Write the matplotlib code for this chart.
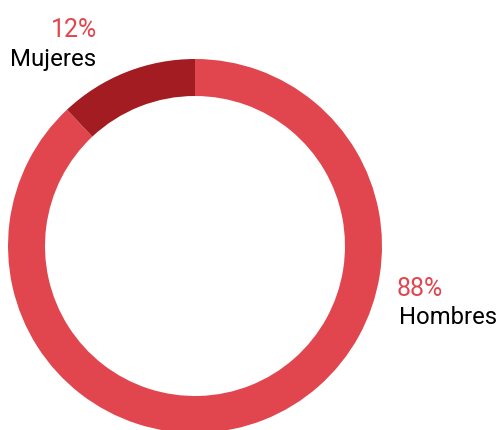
import matplotlib
matplotlib.use("Agg")
import matplotlib.pyplot as plt

labels = ["Hombres", "Mujeres"]
values = [88, 12]
pct_labels = ["88%", "12%"]
colors = ["#E1464E", "#A31C21"]

W, H = 497, 430
fig = plt.figure(figsize=(W / 100, H / 100), dpi=100)
ax = fig.add_axes([0, 0, 1, 1])

cx, cy = 195, H - 246
R, w = 187, 37
ax.pie(values, colors=colors, startangle=90, counterclock=False,
       center=(cx, cy), radius=R, wedgeprops=dict(width=w, linewidth=0),
       frame=True)
ax.set_xlim(0, W)
ax.set_ylim(0, H)
ax.set_aspect("equal")
ax.axis("off")

font = "Roboto"
# Mujeres label
ax.text(97, H - 37, pct_labels[1], ha="right", va="baseline", fontsize=18,
        color="#E1464E", family=font)
ax.text(96, H - 66, labels[1], ha="right", va="baseline", fontsize=17.3,
        color="black", family=font)
# Hombres label
ax.text(397, H - 296, pct_labels[0], ha="left", va="baseline", fontsize=18,
        color="#E1464E", family=font)
ax.text(399, H - 324, labels[0], ha="left", va="baseline", fontsize=17.2,
        color="black", family=font)

fig.savefig("out.png", dpi=100)
